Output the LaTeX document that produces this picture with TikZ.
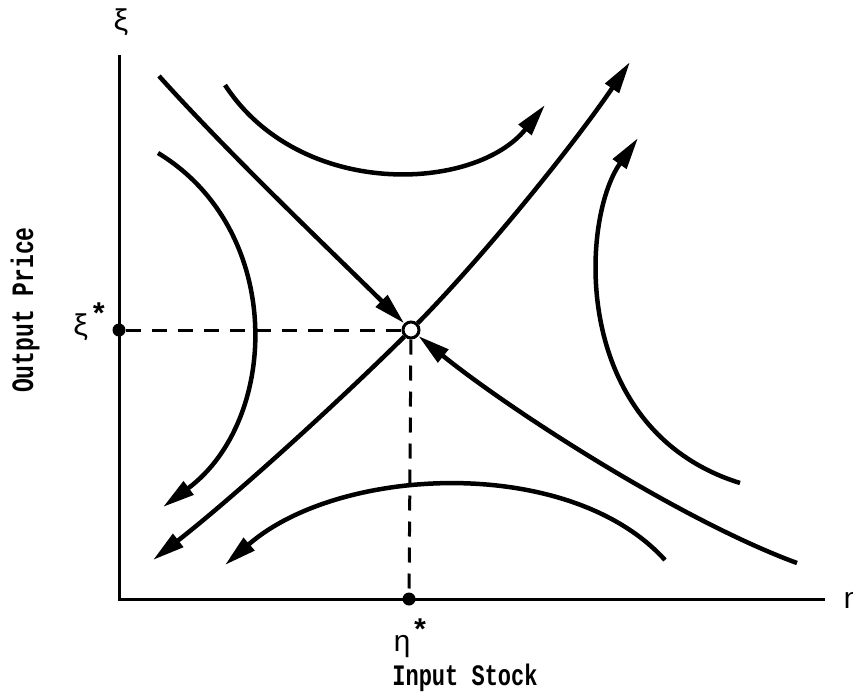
\documentclass[tikz,border=0pt]{standalone}
\usepackage{fontspec}
\setmainfont{Liberation Mono}
\usetikzlibrary{arrows.meta}
\begin{document}
\begin{tikzpicture}[x=1pt,y=-1pt,
  flow/.style={line width=4.5pt},
  arr/.style={flow,-{Triangle[length=32pt,width=16pt]}},
  axisline/.style={line width=3pt},
  guide/.style={line width=3pt,dash pattern=on 15pt off 11pt},
  dot/.style={circle,fill=black,inner sep=0pt,minimum size=13pt},
  eq/.style={circle,draw=black,fill=white,line width=3pt,inner sep=0pt,minimum size=16pt},
  lbl/.style={inner sep=0pt,font=\fontsize{22}{26}\selectfont\bfseries},
  greek/.style={inner sep=0pt,font=\fontsize{30}{34}\selectfont}]
\useasboundingbox (0,0) rectangle (853,696);
% axes
\coordinate (ytop) at (119,55);
\coordinate (orig) at (119,599);
\coordinate (xend) at (825,599);
\draw[axisline] (ytop) -- (orig) -- (xend);
% equilibrium and projections
\node[eq] (c) at (411,330) {};
\node[dot] (xs) at (119,330) {};
\node[dot] (es) at (409,599) {};
\draw[guide] (xs) -- (c);
\draw[guide] (c) -- (es);
% labels
\node[greek] (lxi) at (121,22) {ξ};
\node[greek] (leta) at (852,604) {η};
\node[greek,anchor=east] (lxs) at (108,322) {ξ\raisebox{0.35em}{\bfseries *}};
\node[greek] (les) at (411,638) {η\raisebox{0.35em}{\bfseries *}};
\node[lbl] (lin) at (465,678) {\scalebox{1}[1.35]{Input Stock}};
\node[lbl,rotate=90,font=\fontsize{23}{27}\selectfont\bfseries] (lout) at (25,310) {\scalebox{1}[1.35]{Output Price}};
% separatrices
\coordinate (s1) at (159,76);
\coordinate (s2) at (797,563);
\coordinate (u1) at (630,62);
\coordinate (u2) at (153,560);
\draw[arr] (s1) .. controls (230,155) and (330,250) .. (c);
\draw[arr] (s2) .. controls (680,520) and (510,410) .. (c);
\draw[arr] (c) .. controls (480,260) and (570,150) .. (u1);
\draw[arr] (c) .. controls (330,410) and (230,500) .. (u2);
% trajectories
\coordinate (t1a) at (225,85);
\coordinate (t1b) at (545,105);
\draw[arr] (t1a) .. controls (300,200) and (475,192) .. (t1b);
\coordinate (t2a) at (158,153);
\coordinate (t2b) at (163,507);
\draw[arr] (t2a) .. controls (285,230) and (280,420) .. (t2b);
\coordinate (t3a) at (740,483);
\coordinate (t3b) at (638,138);
\draw[arr] (t3a) .. controls (570,430) and (580,220) .. (t3b);
\coordinate (t4a) at (665,560);
\coordinate (t4b) at (225,565);
\draw[arr] (t4a) .. controls (570,455) and (340,465) .. (t4b);
\end{tikzpicture}
\end{document}
